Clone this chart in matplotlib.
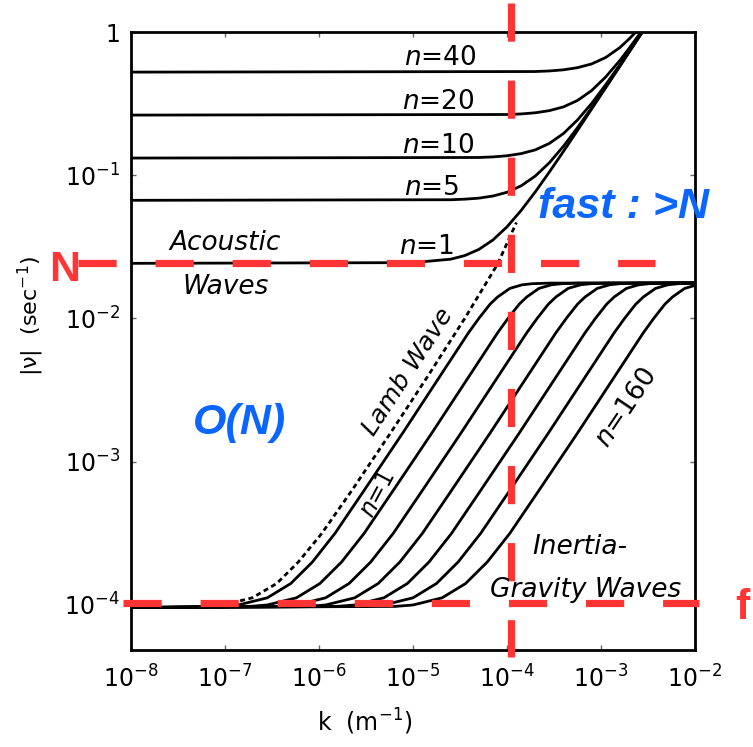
import numpy as np
import matplotlib
matplotlib.use("Agg")
import matplotlib.pyplot as plt
from matplotlib.ticker import FixedLocator, NullLocator

plt.rcParams['lines.scale_dashes'] = False
plt.rcParams['mathtext.fontset'] = 'dejavusans'

# ---------------- data (log10 values) ----------------
# Acoustic modes: log10 k  and log10 nu
ac_n1_logk = [-8, -5.0, -4.6, -4.45, -4.3, -4.15, -4.0, -3.85, -3.7, -3.55, -3.4, -3.25, -3.1, -2.95, -2.8, -2.6, -2.5]
ac_n1_lognu = [-1.615, -1.610, -1.586, -1.561, -1.518, -1.452, -1.360, -1.246, -1.117, -0.978, -0.834, -0.687, -0.538, -0.389, -0.24, -0.04, 0.06]
ac_n5_logk = [-8, -4.6, -4.45, -4.3, -4.15, -4.0, -3.85, -3.7, -3.55, -3.4, -3.25, -3.1, -2.95, -2.8, -2.6, -2.5]
ac_n5_lognu = [-1.175, -1.171, -1.167, -1.160, -1.145, -1.119, -1.074, -1.006, -0.913, -0.798, -0.668, -0.529, -0.384, -0.237, -0.039, 0.06]
ac_n10_logk = [-8, -4.3, -4.15, -4.0, -3.85, -3.7, -3.55, -3.4, -3.25, -3.1, -2.95, -2.8, -2.6, -2.5]
ac_n10_lognu = [-0.880, -0.876, -0.872, -0.864, -0.849, -0.823, -0.778, -0.709, -0.614, -0.499, -0.368, -0.229, -0.036, 0.06]
ac_n20_logk = [-8, -4.0, -3.85, -3.7, -3.55, -3.4, -3.25, -3.1, -2.95, -2.8, -2.7, -2.6, -2.5]
ac_n20_lognu = [-0.580, -0.576, -0.572, -0.564, -0.549, -0.523, -0.478, -0.409, -0.314, -0.199, -0.113, -0.023, 0.07]
ac_n40_logk = [-8, -3.7, -3.55, -3.4, -3.25, -3.1, -2.95, -2.8, -2.7, -2.65, -2.6]
ac_n40_lognu = [-0.280, -0.276, -0.272, -0.264, -0.249, -0.223, -0.178, -0.109, -0.048, -0.014, 0.022]

# Lamb wave (dashed)
lamb_logk = [-7.20, -7.02, -6.71, -6.45, -6.22, -5.97, -5.65, -5.24, -4.84, -4.45, -4.10, -3.90]
lamb_lognu = [-4.01, -4.00, -3.95, -3.85, -3.70, -3.50, -3.20, -2.80, -2.40, -2.00, -1.62, -1.33]

# Inertia-gravity modes: shared log10 nu levels, one log10 k list per mode
ig_lognu = [-4.018, -4.01, -4.00, -3.95, -3.85, -3.70, -3.50, -3.20, -2.80, -2.40, -2.10,
            -2.00, -1.95, -1.90, -1.85, -1.79, -1.765, -1.757, -1.753, -1.752]
ig_g1_logk = [-8, -7.05, -6.86, -6.55, -6.30, -6.07, -5.83, -5.52, -5.11, -4.71, -4.41, -4.30, -4.24, -4.18, -4.10, -3.97, -3.84, -3.73, -3.55, -2.0]
ig_g2_logk = [-8, -6.74, -6.55, -6.24, -5.99, -5.76, -5.52, -5.21, -4.80, -4.40, -4.10, -3.99, -3.93, -3.87, -3.79, -3.66, -3.53, -3.42, -3.24, -2.0]
ig_g3_logk = [-8, -6.43, -6.24, -5.93, -5.68, -5.45, -5.21, -4.90, -4.49, -4.09, -3.79, -3.68, -3.62, -3.56, -3.48, -3.35, -3.22, -3.11, -2.93, -2.0]
ig_g4_logk = [-8, -6.12, -5.93, -5.62, -5.37, -5.14, -4.90, -4.59, -4.18, -3.78, -3.48, -3.37, -3.31, -3.25, -3.17, -3.04, -2.91, -2.80, -2.62, -2.0]
ig_g5_logk = [-8, -5.81, -5.62, -5.31, -5.06, -4.83, -4.59, -4.28, -3.87, -3.47, -3.17, -3.06, -3.00, -2.94, -2.86, -2.73, -2.60, -2.49, -2.31, -2.0]
ig_g6_logk = [-8, -5.50, -5.31, -5.00, -4.75, -4.52, -4.28, -3.97, -3.56, -3.16, -2.86, -2.75, -2.69, -2.63, -2.55, -2.42, -2.29, -2.18, -2.00]
ig_g7_logk = [-8, -5.19, -5.00, -4.69, -4.44, -4.21, -3.97, -3.66, -3.25, -2.85, -2.55, -2.44, -2.38, -2.32, -2.24, -2.11, -1.98, -1.87, -1.69]

x_ticks = [1e-8, 1e-7, 1e-6, 1e-5, 1e-4, 1e-3, 1e-2]
x_ticklabels = ['$10^{-8}$', '$10^{-7}$', '$10^{-6}$', '$10^{-5}$', '$10^{-4}$', '$10^{-3}$', '$10^{-2}$']
y_ticks = [1e-4, 1e-3, 1e-2, 1e-1, 1]
y_ticklabels = ['$10^{-4}$', '$10^{-3}$', '$10^{-2}$', '$10^{-1}$', '1']

# annotation levels
N_level = 0.0244
f_level = 1.03e-4
k_mark = 1.1e-4

# ---------------- figure ----------------
W, H = 753, 747
fig = plt.figure(figsize=(W / 100, H / 100), dpi=100)
ax = fig.add_axes([131 / W, 1 - 650 / H, 564 / W, 618 / H])
ax.set_xscale('log')
ax.set_yscale('log')
ax.set_xlim(1e-8, 1e-2)
ax.set_ylim(4.85e-5, 1.0)

def P(x, y):
    return (x / W, 1 - y / H)

BLACK_LW = 2.0
for lk, ln in [(ac_n1_logk, ac_n1_lognu), (ac_n5_logk, ac_n5_lognu), (ac_n10_logk, ac_n10_lognu),
               (ac_n20_logk, ac_n20_lognu), (ac_n40_logk, ac_n40_lognu)]:
    ax.plot(10 ** np.array(lk), 10 ** np.array(ln), color='black', lw=BLACK_LW,
            solid_capstyle='round', solid_joinstyle='round')

for lk in [ig_g1_logk, ig_g2_logk, ig_g3_logk, ig_g4_logk, ig_g5_logk, ig_g6_logk, ig_g7_logk]:
    ln = ig_lognu[:len(lk)]
    ax.plot(10 ** np.array(lk), 10 ** np.array(ln), color='black', lw=BLACK_LW,
            solid_capstyle='round', solid_joinstyle='round')

ax.plot(10 ** np.array(lamb_logk), 10 ** np.array(lamb_lognu), color='black', lw=2.0,
        dashes=(3.6, 2.6))

# axes style
for s in ax.spines.values():
    s.set_linewidth(2.0)
ax.xaxis.set_major_locator(FixedLocator(x_ticks))
ax.yaxis.set_major_locator(FixedLocator(y_ticks))
ax.xaxis.set_minor_locator(NullLocator())
ax.yaxis.set_minor_locator(NullLocator())
ax.set_xticklabels(x_ticklabels)
ax.set_yticklabels(y_ticklabels)
ax.tick_params(which='major', direction='in', length=3.5, width=1, color='#666666',
               top=True, right=True, labelsize=17)
ax.tick_params(axis='x', pad=11)
ax.tick_params(axis='y', pad=8)

fig.text(*P(365, 722), 'k  (m$^{-1}$)', fontsize=17, ha='center', va='center')
fig.text(*P(31, 316), '|ν|  (sec$^{-1}$)', fontsize=16, ha='center', va='center', rotation=90)

# labels on the curves
TXT = dict(fontsize=19, style='italic', ha='center', va='center')
fig.text(*P(225, 243), 'Acoustic', **TXT)
fig.text(*P(226, 287), 'Waves', **TXT)
for lab, (x, y) in [('40', (440, 58)), ('20', (438, 102)), ('10', (438, 146)), ('5', (432, 188)), ('1', (427, 247))]:
    fig.text(*P(x, y), '$n$=' + lab, fontsize=19, ha='center', va='center')
fig.text(*P(408, 372), 'Lamb Wave', fontsize=18, style='italic', ha='center', va='center', rotation=57)
fig.text(*P(378, 494), '$n$=1', fontsize=17, ha='center', va='center', rotation=62)
fig.text(*P(627, 408), '$n$=160', fontsize=19, ha='center', va='center', rotation=56)
fig.text(*P(580, 547), 'Inertia-', **TXT)
fig.text(*P(586, 590), 'Gravity Waves', **TXT)

# red annotations
RED = '#FF3535'
RLW = 5.2
DASH = (27.5, 28.0)
ax.plot([2.7e-9, 3.75e-3], [N_level, N_level], color=RED, lw=RLW, dashes=DASH, clip_on=False, zorder=10)
ax.plot([8.2e-9, 1.1e-2], [f_level, f_level], color=RED, lw=RLW, dashes=DASH, clip_on=False, zorder=10)
ax.plot([k_mark, k_mark], [1.594, 4.34e-5], color=RED, lw=RLW, dashes=DASH, clip_on=False, zorder=10)
fig.text(*P(65, 270), 'N', fontsize=31, color=RED, fontweight='bold', family='Liberation Sans',
         ha='center', va='center')
fig.text(*P(742, 608), 'f', fontsize=31, color=RED, fontweight='bold', family='Liberation Sans',
         ha='center', va='center')

BLUE = '#0A66FF'
fig.text(*P(623, 207), 'fast : >N', fontsize=31, color=BLUE, fontweight='bold', style='italic',
         family='Liberation Sans', ha='center', va='center')
fig.text(*P(240, 423), 'O(N)', fontsize=31, color=BLUE, fontweight='bold', style='italic',
         family='Liberation Sans', ha='center', va='center')

fig.savefig('out.png', dpi=100)
